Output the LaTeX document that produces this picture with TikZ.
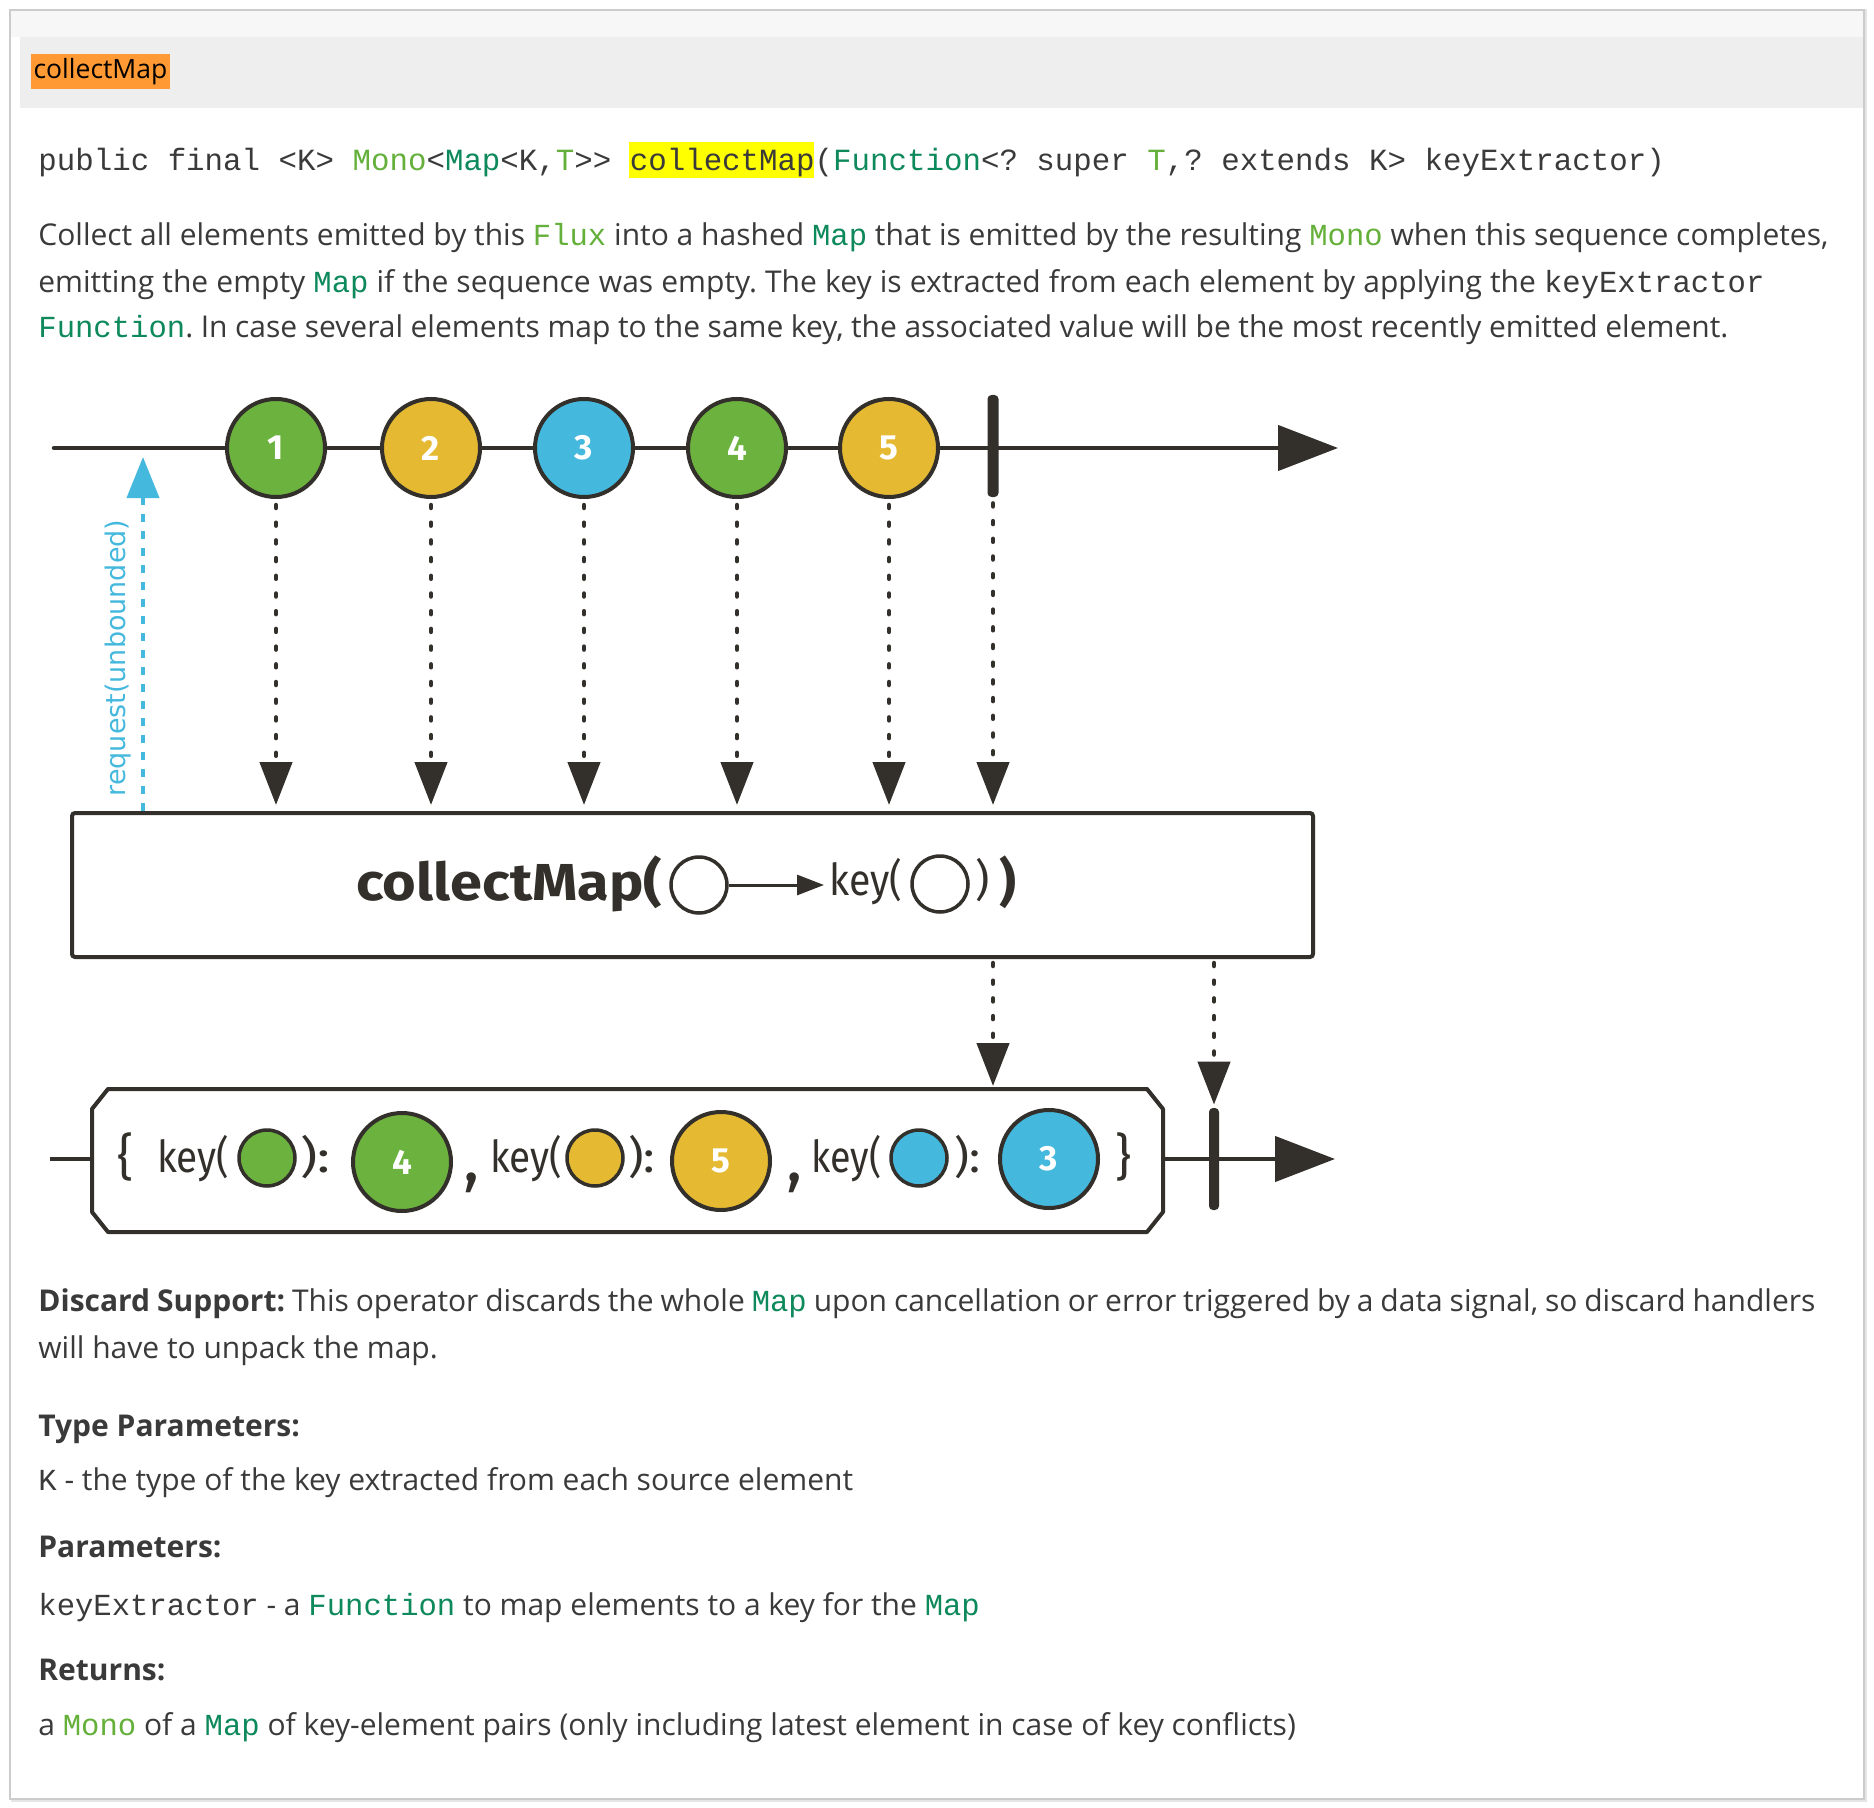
\documentclass[tikz,border=0pt]{standalone}
\usepackage{fontspec}
\usepackage{graphicx}
\usetikzlibrary{arrows.meta}
\setmainfont{Open Sans}
\setmonofont{Liberation Mono}
\newfontfamily\dgfont{Fira Sans}
\newfontfamily\reqfont{DejaVu Sans}
\definecolor{txt}{RGB}{58,58,58}
\definecolor{lgreen}{RGB}{100,176,58}
\definecolor{codeteal}{RGB}{14,137,92}
\definecolor{mgreen}{RGB}{108,178,62}
\definecolor{myellow}{RGB}{229,186,50}
\definecolor{mblue}{RGB}{69,184,221}
\definecolor{dk}{RGB}{51,48,43}
\definecolor{orng}{RGB}{255,153,51}
\definecolor{hdr}{RGB}{238,238,238}
\definecolor{hilite}{RGB}{255,255,0}
\newdimen\pxu \pxu=0.5pt
\newcommand{\fitw}[2]{\resizebox{#1\pxu}{\height}{#2}}
\newcommand{\fillw}[2]{\makebox[#1\pxu][s]{#2}}
\newcommand{\mono}{\ttfamily\fontsize{15.3pt}{17pt}\selectfont}
\newcommand{\sigmono}{\ttfamily\fontsize{15.4pt}{17pt}\selectfont}
\newcommand{\cg}[1]{{\mono\color{lgreen}#1}}
\newcommand{\ct}[1]{{\mono\color{codeteal}#1}}
\newcommand{\cc}[1]{{\mono #1}}
\frenchspacing
\tikzset{
  body/.style={anchor=base west, inner sep=0, text=txt, font=\fontsize{15pt}{18pt}\selectfont},
  marble/.style={circle, draw=dk, line width=2pt, minimum size=49pt, inner sep=0, text=white, font=\dgfont\bfseries\fontsize{17.5pt}{17.5pt}\selectfont},
  hollow/.style={circle, draw=dk, line width=1.75pt, minimum size=28pt, inner sep=0},
  dgtxt/.style={anchor=base west, inner sep=0, text=dk, font=\dgfont\fontsize{22pt}{24pt}\selectfont},
  dgbold/.style={anchor=base west, inner sep=0, text=dk, font=\dgfont\bfseries\fontsize{26pt}{28pt}\selectfont},
  dotline/.style={draw=dk, line width=2.25pt, line cap=round, dash pattern=on 1.5pt off 7.35pt, -{Triangle[length=21.5pt,width=16pt]}},
  tline/.style={draw=dk, line width=2.25pt, -{Triangle[length=30pt,width=22.5pt]}},
  barnode/.style={fill=dk, inner sep=0, minimum width=5.5pt, rounded corners=2pt},
}
\begin{document}
\begin{tikzpicture}[x=0.5pt,y=-0.5pt]
\useasboundingbox (0,0) rectangle (1874,1808);
\fill[white] (0,0) rectangle (1874,1808);
% page frame
\fill[black!10] (11,9) rectangle (1867,1802);
\fill[white] (10,10) rectangle (1864,1799);
\fill[black!3] (10,10) rectangle (1864,37);
\fill[hdr] (20,37) rectangle (1864,108);
\draw[black!20, line width=0.6pt] (10,10) rectangle (1864,1799);
\node[fill=orng, minimum width=139\pxu, minimum height=35\pxu, inner sep=0, text=black, font=\fontsize{13.25pt}{15pt}\selectfont] (hd) at (100.5,71.5) {collectMap};
% signature
\fill[hilite] (629,142) rectangle (814,178);
\node[anchor=base west, inner sep=0, text=txt, font=\sigmono] (sig) at (38,171) {public final <K> \textcolor{lgreen}{Mono}<\textcolor{codeteal}{Map}<K,\textcolor{lgreen}{T}>{}> collectMap(\textcolor{codeteal}{Function}<? super \textcolor{lgreen}{T},? extends K> keyExtractor)};
% description
\node[body] (d1) at (38,246) {\fillw{1790}{Collect all elements emitted by this \cg{Flux} into a hashed \ct{Map} that is emitted by the resulting \cg{Mono} when this sequence completes,}};
\node[body] (d2) at (38,293) {\fillw{1726}{emitting the empty \ct{Map} if the sequence was empty. The key is extracted from each element by applying the \cc{keyExtractor}}};
\node[body] (d3) at (38,338) {\fillw{1690}{\ct{Function}. In case several elements map to the same key, the associated value will be the most recently emitted element.}};

% ---------- diagram ----------
\coordinate (tl0) at (54,448);
\coordinate (tl1) at (1338,448);
\draw[tline, line cap=round] (tl0) -- (tl1);
\node[marble, fill=mgreen] (m1) at (276,448) {1};
\node[marble, fill=myellow] (m2) at (431,448) {2};
\node[marble, fill=mblue] (m3) at (584,448) {3};
\node[marble, fill=mgreen] (m4) at (737,448) {4};
\node[marble, fill=myellow] (m5) at (889,448) {5};
\node[barnode, minimum height=51pt] (tbar) at (993,446) {};

\node[draw=dk, line width=2pt, minimum width=620.5pt, minimum height=72pt, inner sep=0, rounded corners=1.5pt] (op) at (692.5,885) {};

\foreach \m in {m1,m2,m3,m4,m5,tbar}
  \draw[dotline, shorten <=3pt, shorten >=3pt] (\m.south) -- (\m.south |- op.north);

% request
\coordinate (rq) at (143,457);
\draw[mblue, line width=2pt, dash pattern=on 4pt off 4.5pt, -{Triangle[length=20.5pt,width=16pt]}] (rq |- op.north) -- (rq);
\node[rotate=90, inner sep=0, text=mblue, font=\reqfont\fontsize{13.5pt}{14pt}\selectfont] (rql) at (118,658) {request(unbounded)};

% operator label
\node[dgbold] (cm) at (356,900) {\fitw{306}{collectMap(}};
\node[hollow] (h1) at (699,885) {};
\node[dgtxt] (kt) at (829,895) {\fitw{73}{key(}};
\draw[dk, line width=1.5pt, shorten >=2.5pt, -{Triangle[length=13.5pt,width=10pt]}] (h1.east) -- (h1.east -| kt.west);
\node[hollow] (h2) at (940,884) {};
\node[dgtxt] (rp1) at (975,895) {)};
\node[dgbold] (rp2) at (999,900) {)};

% result box
\node[inner sep=0, outer sep=0, minimum width=535.5pt, minimum height=71.5pt] (res) at (627.5,1160.5) {};
\coordinate (bl0) at (50,1159);
\coordinate (bl1) at (1335,1159);
\draw[dk, line width=2.25pt] (bl0) -- (bl0 -| res.west);
\draw[tline] (bl0 -| res.east) -- (bl1);
\draw[dk, line width=2pt, line join=round, fill=white]
  ([xshift=8pt]res.north west) -- ([xshift=-8pt]res.north east) -- ([yshift=-10pt]res.north east)
  -- ([yshift=10pt]res.south east) -- ([xshift=-8pt]res.south east) -- ([xshift=8pt]res.south west)
  -- ([yshift=10pt]res.south west) -- ([yshift=-10pt]res.north west) -- cycle;
\node[barnode, minimum width=5pt, minimum height=51pt] (bbar) at (1214,1159) {};

\draw[dotline, shorten <=2pt, shorten >=1.5pt] (tbar |- op.south) -- (tbar |- res.north);
\draw[dotline, shorten <=2pt, shorten >=1.5pt] (bbar |- op.south) -- (bbar.north);

\node[dgtxt, font=\dgfont\fontsize{25pt}{26pt}\selectfont] (lb) at (117,1174) {\{};
\node[dgtxt] (k1) at (157,1172) {\fitw{72}{key(}};
\node[hollow, fill=mgreen] (s1) at (267,1158) {};
\node[dgtxt] (c1) at (300,1172) {\fitw{30}{):}};
\node[marble, fill=mgreen] (r4) at (402,1162) {4};
\node[dgtxt, font=\dgfont\fontsize{34pt}{36pt}\selectfont] (cma) at (463,1181) {,};
\node[dgtxt] (k2) at (490,1172) {\fitw{72}{key(}};
\node[hollow, fill=myellow] (s2) at (595,1158) {};
\node[dgtxt] (c2) at (628,1172) {\fitw{27}{):}};
\node[marble, fill=myellow] (r5) at (721,1161) {5};
\node[dgtxt, font=\dgfont\fontsize{34pt}{36pt}\selectfont] (cmb) at (786,1181) {,};
\node[dgtxt] (k3) at (811,1172) {\fitw{70}{key(}};
\node[hollow, fill=mblue] (s3) at (919,1158) {};
\node[dgtxt] (c3) at (954,1172) {\fitw{26}{):}};
\node[marble, fill=mblue] (r3) at (1049,1159) {3};
\node[dgtxt, font=\dgfont\fontsize{25pt}{26pt}\selectfont] (rb) at (1115,1174) {\}};

% ---------- lower text ----------
\node[body] (ds1) at (38,1311) {\fillw{1777}{\textbf{Discard Support:} This operator discards the whole \ct{Map} upon cancellation or error triggered by a data signal, so discard handlers}};
\node[body] (ds2) at (38,1358) {will have to unpack the map.};
\node[body] (tp) at (38,1436) {\textbf{Type Parameters:}};
\node[body] (tpk) at (38,1490) {\cc{K} - the type of the key extracted from each source element};
\node[body] (pp) at (38,1557) {\textbf{Parameters:}};
\node[body] (ppk) at (38,1615) {\cc{keyExtractor} - a \ct{Function} to map elements to a key for the \ct{Map}};
\node[body] (rt) at (38,1680) {\textbf{Returns:}};
\node[body] (rtv) at (38,1735) {a \cg{Mono} of a \ct{Map} of key-element pairs (only including latest element in case of key conflicts)};
\end{tikzpicture}
\end{document}
